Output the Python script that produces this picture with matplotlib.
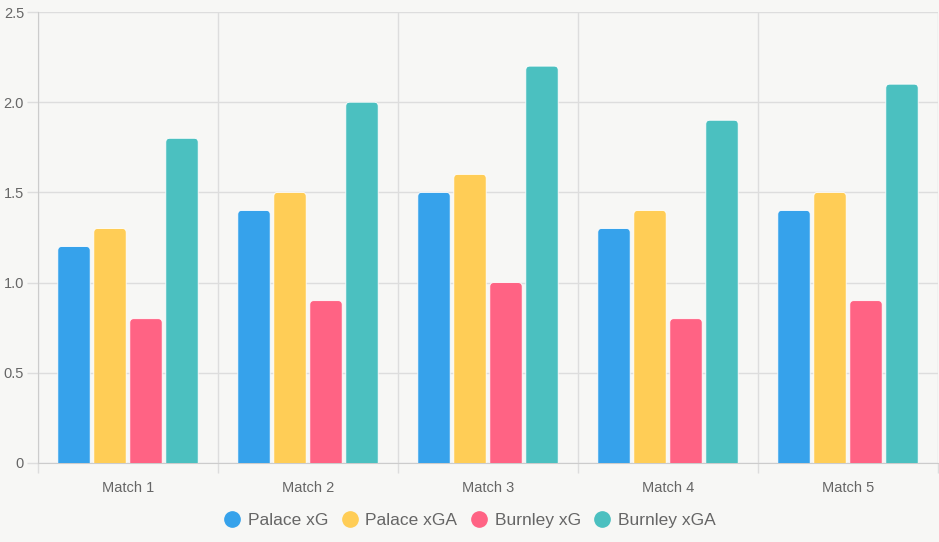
import matplotlib.pyplot as plt
from matplotlib.patches import FancyBboxPatch
from matplotlib.lines import Line2D
import numpy as np

matches = ['Match 1', 'Match 2', 'Match 3', 'Match 4', 'Match 5']
palace_xg = [1.2, 1.4, 1.5, 1.3, 1.4]
palace_xga = [1.3, 1.5, 1.6, 1.4, 1.5]
burnley_xg = [0.8, 0.9, 1.0, 0.8, 0.9]
burnley_xga = [1.8, 2.0, 2.2, 1.9, 2.1]

series = [('Palace xG', palace_xg, '#36A2EB'),
          ('Palace xGA', palace_xga, '#FFCD56'),
          ('Burnley xG', burnley_xg, '#FF6384'),
          ('Burnley xGA', burnley_xga, '#4BC0C0')]

plt.rcParams['font.family'] = ['Liberation Sans', 'DejaVu Sans']
bg = '#f7f7f5'
txt = '#666666'
grid = '#dddddd'

fig = plt.figure(figsize=(9.39, 5.42), dpi=100, facecolor=bg)
ax = fig.add_axes([38/939, 79/542, 900/939, 451/542])
ax.set_facecolor(bg)

x = np.arange(len(matches))
slot = 0.8 / 4
width = slot * 0.9
r = 0.022
for i, (name, vals, col) in enumerate(series):
    off = -0.4 + slot * (i + 0.5)
    for xi, v in zip(x, vals):
        p = FancyBboxPatch((xi + off - width/2, -0.05), width, v + 0.05,
                           boxstyle='round,pad=0,rounding_size=%f' % r,
                           mutation_aspect=1.0, facecolor=col,
                           edgecolor='white', linewidth=0.6, zorder=3)
        ax.add_patch(p)

ax.set_xlim(-0.5, len(matches) - 0.5)
ax.set_ylim(0, 2.5)
ax.set_yticks([0, 0.5, 1.0, 1.5, 2.0, 2.5])
ax.set_yticklabels(['0', '0.5', '1.0', '1.5', '2.0', '2.5'])
ax.set_xticks(x)
ax.set_xticklabels(matches)
ax.set_xticks(np.arange(len(matches) + 1) - 0.5, minor=True)

ax.grid(axis='y', color=grid, linewidth=1, zorder=0)
ax.grid(axis='x', which='minor', color=grid, linewidth=1, zorder=0)
ax.tick_params(axis='x', which='major', length=0, labelsize=10.5, colors=txt, pad=13)
ax.tick_params(axis='x', which='minor', length=7, color=grid, width=1)
ax.tick_params(axis='y', length=8, color=grid, width=1, labelsize=10.5, labelcolor=txt, pad=2)
for s in ['top', 'right']:
    ax.spines[s].set_visible(False)
for s in ['left', 'bottom']:
    ax.spines[s].set_color('#cccccc')

handles = [Line2D([], [], marker='o', linestyle='', markersize=11,
                  markerfacecolor=c, markeredgecolor=c) for _, _, c in series]
fig.legend(handles, [s[0] for s in series], loc='center', bbox_to_anchor=(0.5, 22/542),
           ncol=4, frameon=False, fontsize=12.5, labelcolor=txt,
           handletextpad=0.4, columnspacing=0.75, handlelength=1.0)

fig.savefig('out.png', dpi=100, facecolor=bg)
